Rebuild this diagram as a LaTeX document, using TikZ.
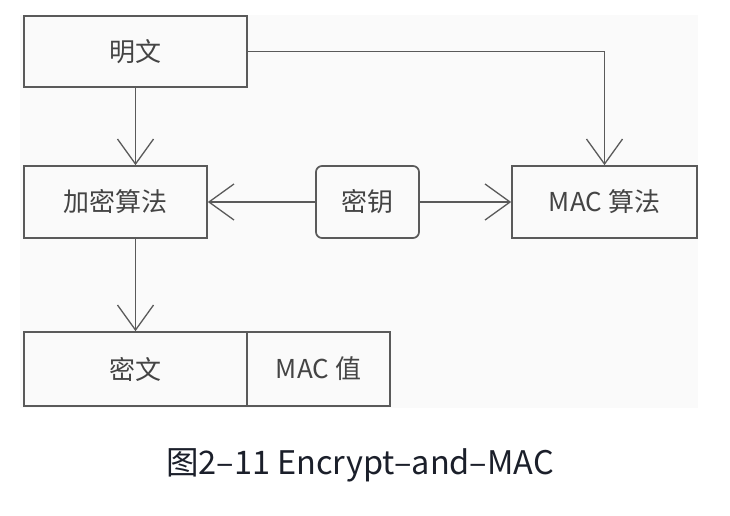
\documentclass[tikz,border=0pt]{standalone}
\usepackage{fontspec}
\setmainfont{Noto Sans CJK SC}
\usetikzlibrary{arrows.meta}

\tikzset{
    box/.style={draw=boxline, line width=1.7pt, inner sep=0pt, text=boxtext,
        font=\fontsize{26}{31}\selectfont},
    flow/.style={draw=boxline, line width=1.6pt,
        -{Straight Barb[length=25pt,width=36pt,line width=1.3pt]}}
}
\definecolor{boxline}{HTML}{5A5A5A}
\definecolor{boxtext}{HTML}{444444}
\definecolor{captext}{HTML}{1B1F2A}

\begin{document}
\begin{tikzpicture}[x=1pt,y=-1pt]
    % Page and light panel
    \useasboundingbox (0,0) rectangle (730,516);
    \fill[black!2] (20,15) rectangle (698,408);

    \node[box, minimum width=223pt, minimum height=71pt] (plain) at (135.5,51.5) {明文};
    \node[box, minimum width=183pt, minimum height=72pt] (enc) at (115.5,202) {加密算法};
    \node[box, rounded corners=6pt, minimum width=103pt, minimum height=72pt] (key) at (367.5,202) {密钥};
    \node[box, minimum width=185pt, minimum height=72pt] (mac) at (604.5,202) {MAC 算法};
    \node[box, minimum width=223pt, minimum height=74pt] (cipher) at (135.5,369) {密文};
    \node[box, minimum width=143pt, minimum height=74pt] (tag) at (318.5,369) {MAC 值};

    % Connectors
    \draw[flow] (plain.south) -- (plain.south |- enc.north);
    \draw[flow] (plain.east) -- (mac.north |- plain.east) -- (mac.north);
    \draw[flow] (key.west) -- (enc.east);
    \draw[flow] (key.east) -- (mac.west);
    \draw[flow] (cipher.north |- enc.south) -- (cipher.north);

    \node[text=captext, font=\fontsize{32.5}{38}\selectfont] (caption) at (360,465) {图2–11 Encrypt–and–MAC};
\end{tikzpicture}
\end{document}
